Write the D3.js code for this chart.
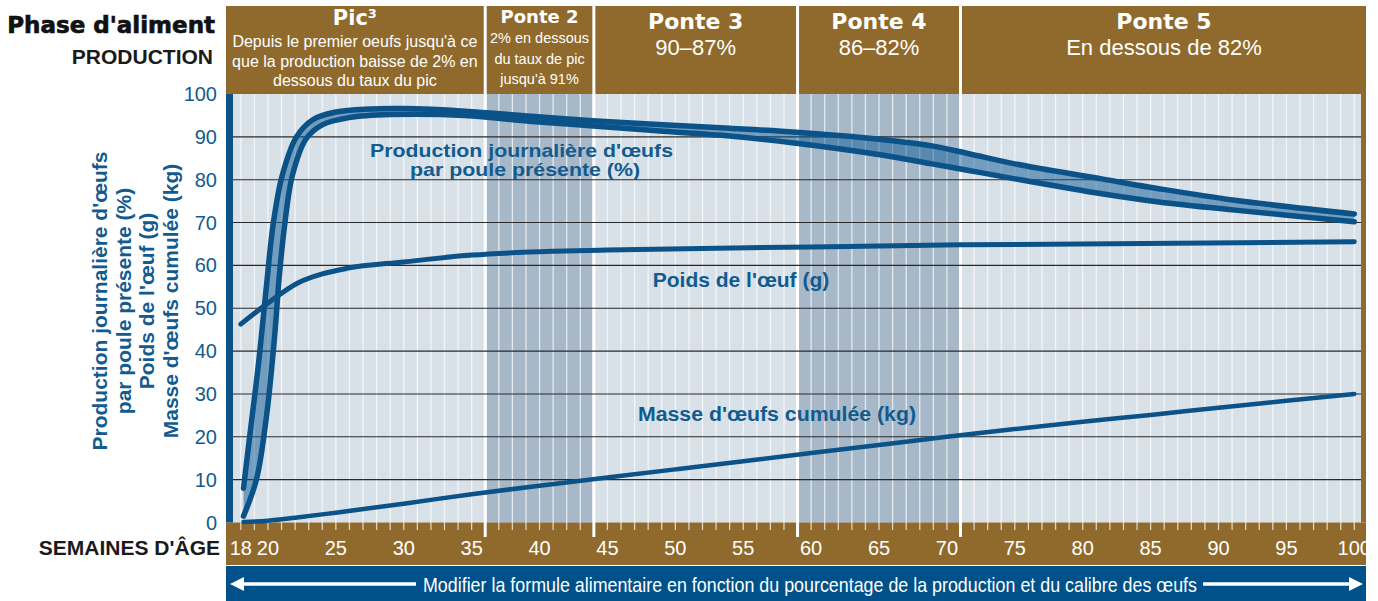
<!DOCTYPE html>
<html>
<head>
<meta charset="utf-8">
<script src="https://cdn.jsdelivr.net/npm/d3@7"></script>
<style>
body { margin: 0; background: #fff; }
</style>
</head>
<body>
<div class="chart"></div>
<script>
// production journaliere, bord haut et bord bas de la bande
const weeksHigh = [18.2, 18.65, 19.3, 19.85, 20.4, 21.05, 22.1, 23.3, 25, 27.5, 30, 34.5, 39.4, 44.2, 49.1, 54, 58.9, 63.2, 68.9, 71.7, 75, 81.4, 85.6, 91.2, 100]
const prodHigh = [8, 20, 37, 54, 70, 81, 90, 94, 95.8, 96.5, 96.6, 96, 94.8, 93.7, 92.8, 92, 91.1, 90, 87.9, 86, 83.7, 80.2, 77.9, 75.2, 72]
const weeksLow = [18.2, 19.15, 19.9, 20.45, 20.85, 21.25, 21.8, 22.8, 24, 26, 29, 34.5, 39.4, 44.2, 49.1, 54, 58.9, 64.7, 68.9, 71.7, 75, 81.4, 85.6, 91.2, 100]
const prodLow = [1.5, 10, 25, 42, 58, 70, 81, 89.5, 92.8, 94.5, 95.2, 95, 93.6, 92.5, 91.3, 90.2, 88.5, 86, 83.7, 82.1, 80.2, 76.7, 74.8, 72.9, 70.2]
// poids de l'oeuf (g)
const weeksPoids = [18, 20, 22.2, 24, 25.8, 30, 35, 41, 45, 60, 71, 100]
const poids = [46.3, 51.2, 55.9, 58, 59.3, 60.8, 62.4, 63.3, 63.6, 64.3, 64.8, 65.5]
// masse d'oeufs cumulee (kg)
const weeksMasse = [18.2, 20, 22, 25, 30, 35, 40, 45, 50, 55, 60, 65, 70, 75, 80, 85, 90, 95, 100]
const masse = [0.1, 0.4, 1.1, 2.3, 4.4, 6.6, 8.6, 10.5, 12.4, 14.3, 16.2, 18.1, 20.0, 21.8, 23.5, 25.1, 26.8, 28.4, 30]

const yTicks = [0, 10, 20, 30, 40, 50, 60, 70, 80, 90, 100]
const xTicks = [18, 20, 25, 30, 35, 40, 45, 50, 55, 60, 65, 70, 75, 80, 85, 90, 95, 100]
const phaseNames = ["Pic", "Ponte 2", "Ponte 3", "Ponte 4", "Ponte 5"]
const phaseNotes = [
  ["Depuis le premier oeufs jusqu'à ce", "que la production baisse de 2% en", "dessous du taux du pic"],
  ["2% en dessous", "du taux de pic", "jusqu'à 91%"],
  ["90–87%"],
  ["86–82%"],
  ["En dessous de 82%"]
]
const phaseLimits = [36, 44, 59, 71]
const yTitle = ["Production journalière d'œufs", "par poule présente (%)", "Poids de l'œuf (g)", "Masse d'œufs cumulée (kg)"]

var width = 1378
var height = 601
var brown = "#8f6a2c"
var blue = "#0a5288"
var textBlue = "#125b8f"
var narrow = "'Liberation Sans Narrow','Arial Narrow',sans-serif"
var sans = "'Liberation Sans',Arial,sans-serif"
var heavy = "'DejaVu Sans',sans-serif"

var pLeft = 226, pRight = 1366, pTop = 94, pBottom = 522.5
var x = d3.scaleLinear().domain([18, 100]).range([240.8, 1354.3])
var y = d3.scaleLinear().domain([0, 100]).range([pBottom, pTop])

var svg = d3.select(".chart").append("svg")
  .attr("width", width)
  .attr("height", height)
  .style("font-family", sans)

// fond du graphique
svg.append("rect").attr("x", 233).attr("y", pTop).attr("width", 1361 - 233).attr("height", pBottom - pTop).attr("fill", "#d8e0e8")

var bounds = [pLeft].concat(phaseLimits.map(d => x(d))).concat([pRight])

// bandes sombres ponte 2 et ponte 4
;[1, 3].forEach(function(i){
  svg.append("rect")
    .attr("x", bounds[i] + 1.5).attr("y", pTop)
    .attr("width", bounds[i+1] - bounds[i] - 3).attr("height", pBottom - pTop)
    .attr("fill", "#a7b8c8")
})

// bande brune de l'axe x et bord droit
svg.append("rect").attr("x", pLeft).attr("y", pBottom).attr("width", pRight - pLeft).attr("height", 565 - pBottom).attr("fill", brown)
svg.append("rect").attr("x", 1361).attr("y", pTop).attr("width", pRight - 1361).attr("height", pBottom - pTop).attr("fill", brown)

// lignes blanches hebdomadaires
svg.append("g").selectAll("line")
  .data(d3.range(18, 101))
  .enter().append("line")
  .attr("x1", d => x(d)).attr("x2", d => x(d))
  .attr("y1", pTop).attr("y2", 530)
  .attr("stroke", "#fff").attr("stroke-opacity", 0.7).attr("stroke-width", 1.3)

// limites de phases
svg.append("g").selectAll("line")
  .data(phaseLimits)
  .enter().append("line")
  .attr("x1", d => x(d)).attr("x2", d => x(d))
  .attr("y1", pTop).attr("y2", 537)
  .attr("stroke", "#fff").attr("stroke-width", 3)

// grille horizontale
svg.append("g").selectAll("line")
  .data(yTicks.filter(d => d > 0 && d < 100))
  .enter().append("line")
  .attr("x1", 233).attr("x2", 1361)
  .attr("y1", d => y(d)).attr("y2", d => y(d))
  .attr("stroke", "#2a2a2a").attr("stroke-width", 1.1)

// barre bleue gauche
svg.append("rect").attr("x", pLeft).attr("y", pTop).attr("width", 7).attr("height", pBottom - pTop).attr("fill", blue)

// en-tetes des phases
var head = svg.append("g")
phaseNames.forEach(function(name, i){
  var x0 = i == 0 ? pLeft : bounds[i] + 1.5
  var x1 = i == phaseNames.length - 1 ? pRight : bounds[i+1] - 1.5
  var cx = (x0 + x1) / 2
  head.append("rect").attr("x", x0).attr("y", 6).attr("width", x1 - x0).attr("height", pTop - 6).attr("fill", brown)
  var small = i == 1
  var t = head.append("text")
    .attr("x", cx).attr("y", i == 0 ? 25 : small ? 23 : 29)
    .attr("text-anchor", "middle").attr("fill", "#fff")
    .style("font-family", heavy).style("font-weight", "bold")
    .style("font-size", i == 0 ? "21px" : small ? "18px" : "22px")
    .text(name)
  if (i == 0) t.append("tspan").attr("dy", -7).style("font-size", "13px").text("3")
  phaseNotes[i].forEach(function(line, j){
    var by = i == 0 ? 47 + j * 19.5 : small ? 43 + j * 20.5 : 55
    head.append("text")
      .attr("x", cx).attr("y", by)
      .attr("text-anchor", "middle").attr("fill", "#fff")
      .style("font-family", narrow)
      .style("font-size", i == 0 ? "16px" : small ? "14.5px" : "22px")
      .text(line)
  })
})

// textes de gauche
svg.append("text").attr("x", 215).attr("y", 33).attr("text-anchor", "end")
  .style("font-family", heavy).style("font-weight", "bold").style("font-size", "23px")
  .attr("fill", "#111").attr("stroke", "#111").attr("stroke-width", 0.7)
  .text("Phase d'aliment")
svg.append("text").attr("x", 213).attr("y", 64).attr("text-anchor", "end")
  .style("font-weight", "bold").style("font-size", "21px").attr("fill", "#1a1a1a")
  .text("PRODUCTION")
svg.append("text").attr("x", 220).attr("y", 555).attr("text-anchor", "end")
  .style("font-weight", "bold").style("font-size", "21px").attr("fill", "#1a1a1a")
  .text("SEMAINES D'ÂGE")

// axe y
svg.append("g").selectAll("text")
  .data(yTicks)
  .enter().append("text")
  .attr("x", 217).attr("y", d => y(d) + 7)
  .attr("text-anchor", "end").attr("fill", textBlue)
  .style("font-family", narrow).style("font-size", "20px")
  .text(d => d)

// titre de l'axe y
var titleX = [107, 131, 154, 178]
svg.append("g").selectAll("text")
  .data(yTitle)
  .enter().append("text")
  .attr("transform", (d, i) => "translate(" + titleX[i] + ",301) rotate(-90)")
  .attr("text-anchor", "middle").attr("fill", textBlue)
  .style("font-family", narrow).style("font-weight", "bold").style("font-size", "21px")
  .text(d => d)

// axe x
svg.append("g").selectAll("text")
  .data(xTicks)
  .enter().append("text")
  .attr("x", d => x(d)).attr("y", 555)
  .attr("text-anchor", "middle").attr("fill", "#fff")
  .style("font-family", narrow).style("font-size", "20px")
  .text(d => d)

// bande bleue du bas
svg.append("rect").attr("x", pLeft).attr("y", 566).attr("width", pRight - pLeft).attr("height", height - 566).attr("fill", "#00518a")
svg.append("text").attr("x", 423).attr("y", 592)
  .attr("fill", "#fff").style("font-family", narrow).style("font-size", "21px")
  .attr("textLength", 774).attr("lengthAdjust", "spacingAndGlyphs")
  .text("Modifier la formule alimentaire en fonction du pourcentage de la production et du calibre des œufs")
svg.append("line").attr("x1", 240).attr("x2", 416).attr("y1", 584).attr("y2", 584).attr("stroke", "#fff").attr("stroke-width", 3.5)
svg.append("path").attr("d", "M230,584 L244,577 L244,591 Z").attr("fill", "#fff")
svg.append("line").attr("x1", 1203).attr("x2", 1352).attr("y1", 584).attr("y2", 584).attr("stroke", "#fff").attr("stroke-width", 3.5)
svg.append("path").attr("d", "M1363,584 L1349,577 L1349,591 Z").attr("fill", "#fff")

// courbes
function pts(ws, vs){ return ws.map((w, i) => [w, vs[i]]) }
var smooth = d3.line().x(d => x(d[0])).y(d => y(d[1])).curve(d3.curveCatmullRom.alpha(0.5))
var line = d3.line().x(d => x(d[0])).y(d => y(d[1])).curve(d3.curveMonotoneX)
var high = pts(weeksHigh, prodHigh)
var low = pts(weeksLow, prodLow)

svg.append("path")
  .attr("d", smooth(high) + "L" + smooth(low.slice().reverse()).slice(1) + "Z")
  .attr("fill", "#0e5a96").attr("fill-opacity", 0.5)

;[high, low].forEach(function(d){
  svg.append("path").attr("d", smooth(d))
    .attr("fill", "none").attr("stroke", blue).attr("stroke-width", 5.5)
    .attr("stroke-linecap", "round").attr("stroke-linejoin", "round")
})
svg.append("path").attr("d", line(pts(weeksPoids, poids)))
  .attr("fill", "none").attr("stroke", blue).attr("stroke-width", 5).attr("stroke-linecap", "round")
svg.append("path").attr("d", line(pts(weeksMasse, masse)))
  .attr("fill", "none").attr("stroke", blue).attr("stroke-width", 4.5).attr("stroke-linecap", "round")

// etiquettes des courbes
var labels = svg.append("g").attr("fill", textBlue).style("font-weight", "bold")
labels.append("text").attr("x", 370).attr("y", 157).style("font-size", "19px")
  .attr("textLength", 303).attr("lengthAdjust", "spacingAndGlyphs").text("Production journalière d'œufs")
labels.append("text").attr("x", 410).attr("y", 175.5).style("font-size", "19px")
  .attr("textLength", 230).attr("lengthAdjust", "spacingAndGlyphs").text("par poule présente (%)")
labels.append("text").attr("x", 741).attr("y", 287).attr("text-anchor", "middle").style("font-family", narrow).style("font-size", "21px").text("Poids de l'œuf (g)")
labels.append("text").attr("x", 638).attr("y", 421).style("font-size", "19.5px")
  .attr("textLength", 278).attr("lengthAdjust", "spacingAndGlyphs").text("Masse d'œufs cumulée (kg)")
</script>
</body>
</html>
